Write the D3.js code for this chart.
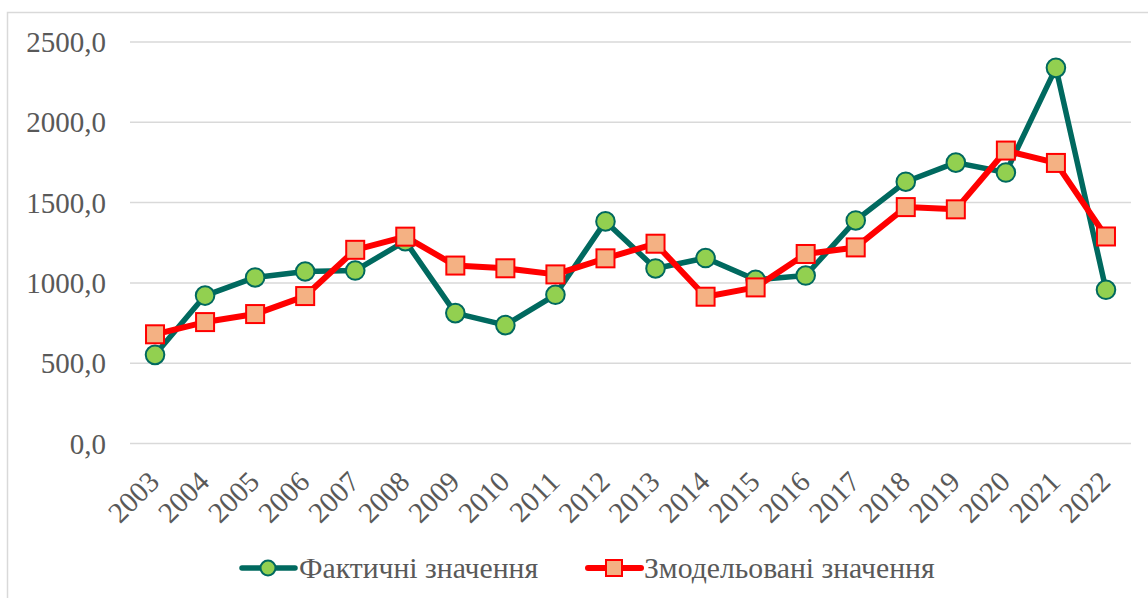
<!DOCTYPE html>
<html>
<head>
<meta charset="utf-8">
<script src="https://cdn.jsdelivr.net/npm/d3@7"></script>
<style>
  html, body { margin: 0; padding: 0; background: #ffffff; }
  svg { display: block; }
</style>
</head>
<body>
<svg id="chart" width="1148" height="598"></svg>
<script>
const years = ["2003","2004","2005","2006","2007","2008","2009","2010","2011","2012",
               "2013","2014","2015","2016","2017","2018","2019","2020","2021","2022"];
const actual = [552, 921, 1034, 1071, 1077, 1260, 812, 737, 926, 1383,
                1090, 1155, 1019, 1046, 1389, 1630, 1749, 1687, 2339, 957];
const modeled = [680, 756, 806, 918, 1206, 1288, 1108, 1091, 1053, 1153,
                 1244, 914, 972, 1180, 1221, 1472, 1458, 1824, 1747, 1289];
const yTicks = [0, 500, 1000, 1500, 2000, 2500];
const seriesNames = ["Фактичні значення", "Змодельовані значення"];

const svg = d3.select("#chart");
const font = "\"Liberation Serif\"";
const fs = "29px";
const fsLegend = "29.7px";
const textColor = "#595959";

// chart area border
svg.append("rect")
  .attr("x", 7.5).attr("y", 12.5)
  .attr("width", 1160).attr("height", 600)
  .attr("fill", "#ffffff")
  .attr("stroke", "#d9d9d9").attr("stroke-width", 1.5);

const plot = { left: 130, right: 1131, top: 42, bottom: 443.5 };

const x = d3.scaleBand().domain(years).range([plot.left, plot.right]);
const y = d3.scaleLinear().domain([0, 2500]).range([plot.bottom, plot.top]);
const cx = d => x(d) + x.bandwidth() / 2;

// gridlines
svg.append("g")
  .selectAll("line")
  .data(yTicks)
  .join("line")
  .attr("x1", plot.left).attr("x2", plot.right)
  .attr("y1", d => y(d)).attr("y2", d => y(d))
  .attr("stroke", "#d9d9d9").attr("stroke-width", 1.5);

// y axis labels
const fmt = v => d3.format(".1f")(v).replace(".", ",");
const yAxis = d3.axisLeft(y).tickValues(yTicks).tickFormat(fmt).tickSize(0).tickPadding(24);
const gy = svg.append("g").attr("transform", `translate(${plot.left},0)`).call(yAxis)
  .attr("font-family", null).attr("font-size", null);
gy.select(".domain").remove();
gy.selectAll("text")
  .style("font-family", font).style("font-size", fs).attr("fill", textColor)
  .attr("dy", "0.33em");

// x axis labels (rotated)
const xAxis = d3.axisBottom(x).tickSize(0).tickPadding(0);
const gx = svg.append("g").attr("transform", `translate(0,${plot.bottom})`).call(xAxis)
  .attr("font-family", null).attr("font-size", null);
gx.select(".domain").remove();
gx.selectAll(".tick text")
  .style("font-family", font).style("font-size", fs).attr("fill", textColor)
  .attr("text-anchor", "end")
  .attr("y", 0).attr("dy", 0)
  .attr("transform", "translate(6,40) rotate(-45)");

// lines
const lineGen = vals => d3.line()
  .x((d, i) => cx(years[i]))
  .y(d => y(d))(vals);

svg.append("path")
  .attr("d", lineGen(actual))
  .attr("fill", "none").attr("stroke", "#00695F").attr("stroke-width", 5.5)
  .attr("stroke-linejoin", "round");

svg.append("path")
  .attr("d", lineGen(modeled))
  .attr("fill", "none").attr("stroke", "#FF0000").attr("stroke-width", 6)
  .attr("stroke-linejoin", "round");

// markers
svg.append("g").selectAll("circle")
  .data(actual)
  .join("circle")
  .attr("cx", (d, i) => cx(years[i]))
  .attr("cy", d => y(d))
  .attr("r", 9.3)
  .attr("fill", "#92D050").attr("stroke", "#00695F").attr("stroke-width", 2);

const sq = 18;
svg.append("g").selectAll("rect")
  .data(modeled)
  .join("rect")
  .attr("x", (d, i) => cx(years[i]) - sq / 2)
  .attr("y", d => y(d) - sq / 2)
  .attr("width", sq).attr("height", sq)
  .attr("fill", "#F4B183").attr("stroke", "#FF0000").attr("stroke-width", 2);

// legend
const legY = 568;
const leg = svg.append("g");
leg.append("line").attr("x1", 242).attr("x2", 295).attr("y1", legY).attr("y2", legY)
  .attr("stroke", "#00695F").attr("stroke-width", 5.5).attr("stroke-linecap", "round");
leg.append("circle").attr("cx", 268).attr("cy", legY).attr("r", 7.5)
  .attr("fill", "#92D050").attr("stroke", "#00695F").attr("stroke-width", 2);
leg.append("text").attr("x", 299).attr("y", legY).attr("dy", "0.35em")
  .style("font-family", font).style("font-size", fsLegend).attr("fill", textColor)
  .text(seriesNames[0]);
leg.append("line").attr("x1", 588).attr("x2", 641).attr("y1", legY).attr("y2", legY)
  .attr("stroke", "#FF0000").attr("stroke-width", 6).attr("stroke-linecap", "round");
leg.append("rect").attr("x", 614 - 8).attr("y", legY - 8).attr("width", 16).attr("height", 16)
  .attr("fill", "#F4B183").attr("stroke", "#FF0000").attr("stroke-width", 2);
leg.append("text").attr("x", 644).attr("y", legY).attr("dy", "0.35em")
  .style("font-family", font).style("font-size", fsLegend).attr("fill", textColor)
  .text(seriesNames[1]);
</script>
</body>
</html>
